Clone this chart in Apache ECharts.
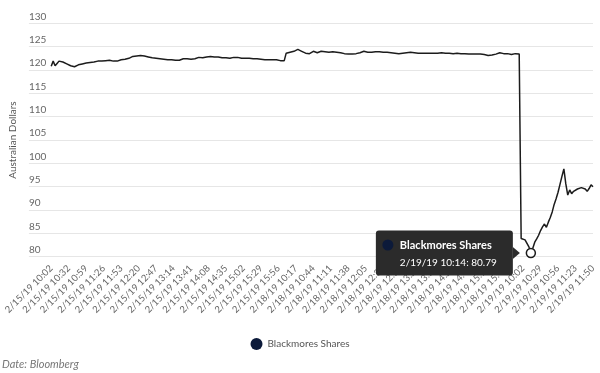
<!DOCTYPE html>
<html>
<head>
<meta charset="utf-8">
<script src="https://cdn.jsdelivr.net/npm/echarts@6/dist/echarts.min.js"></script>
<style>
  html, body { margin: 0; padding: 0; background: #fff; }
  #chart { width: 600px; height: 373px; }
</style>
</head>
<body>
<div id="chart"></div>
<script>
// axis tick labels, one every 9 points (3 minutes per point)
const tickLabels = [
  "2/15/19 10:02", "2/15/19 10:32", "2/15/19 10:59", "2/15/19 11:26", "2/15/19 11:53",
  "2/15/19 12:20", "2/15/19 12:47", "2/15/19 13:14", "2/15/19 13:41", "2/15/19 14:08",
  "2/15/19 14:35", "2/15/19 15:02", "2/15/19 15:29", "2/15/19 15:56",
  "2/18/19 10:17", "2/18/19 10:44", "2/18/19 11:11", "2/18/19 11:38", "2/18/19 12:05",
  "2/18/19 12:32", "2/18/19 12:59", "2/18/19 13:26", "2/18/19 13:53", "2/18/19 14:20",
  "2/18/19 14:47", "2/18/19 15:14", "2/18/19 15:41",
  "2/19/19 10:02", "2/19/19 10:29", "2/19/19 10:56", "2/19/19 11:23", "2/19/19 11:50"
];

// Blackmores share price, Australian dollars
const prices = [
  120.8, 121.9, 120.9, 121.4, 121.9, 122.1, 121.7, 121.5, 121.3, 121.1,
  120.9, 120.8, 120.7, 120.8, 121.1, 121.2, 121.3, 121.5, 121.5, 121.7,
  121.6, 121.8, 121.7, 121.8, 121.9, 121.8, 121.9, 121.9, 122.0, 121.9,
  122.1, 122.0, 121.9, 122.0, 121.9, 122.0, 122.2, 122.3, 122.3, 122.4,
  122.5, 122.6, 122.9, 122.9, 123.0, 123.0, 123.1, 123.0, 123.0, 122.9,
  122.8, 122.7, 122.6, 122.6, 122.5, 122.5, 122.4, 122.5, 122.3, 122.3,
  122.2, 122.1, 122.2, 122.1, 122.1, 122.2, 122.1, 122.3, 122.4, 122.5,
  122.4, 122.3, 122.3, 122.2, 122.4, 122.5, 122.7, 122.7, 122.6, 122.7,
  122.8, 122.9, 122.9, 122.8, 122.8, 122.7, 122.8, 122.7, 122.6, 122.7,
  122.6, 122.6, 122.5, 122.6, 122.7, 123.0, 122.7, 122.5, 122.5, 122.6,
  122.5, 122.6, 122.5, 122.5, 122.4, 122.5, 122.4, 122.3, 122.3, 122.2,
  122.2, 122.1, 122.2, 122.3, 122.2, 122.1, 122.2, 122.1, 122.0, 122.1,
  122.0, 123.6, 123.8, 123.8, 123.9, 124.0, 124.2, 124.4, 124.3, 124.0,
  123.8, 123.6, 123.5, 123.5, 123.7, 124.0, 123.8, 123.7, 123.8, 124.0,
  124.1, 123.9, 123.7, 123.8, 123.9, 123.9, 123.8, 123.8, 123.8, 123.7,
  123.6, 123.5, 123.4, 123.4, 123.4, 123.4, 123.4, 123.5, 123.6, 123.7,
  123.9, 124.0, 123.9, 123.8, 123.8, 123.8, 123.9, 123.9, 123.9, 123.9,
  123.9, 123.8, 123.8, 123.8, 123.7, 123.7, 123.7, 123.6, 123.6, 123.5,
  123.5, 123.6, 123.6, 123.7, 123.8, 123.8, 123.8, 123.7, 123.6, 123.6,
  123.7, 123.6, 123.6, 123.6, 123.5, 123.6, 123.5, 123.6, 123.7, 123.6,
  123.6, 123.7, 123.6, 123.6, 123.5, 123.6, 123.6, 123.5, 123.5, 123.6,
  123.6, 123.5, 123.6, 123.5, 123.5, 123.4, 123.5, 123.4, 123.5, 123.4,
  123.4, 123.4, 123.3, 123.3, 123.2, 123.1, 123.1, 123.2, 123.3, 123.4,
  123.5, 123.7, 123.6, 123.5, 123.5, 123.5, 123.4, 123.3, 123.4, 123.5,
  123.5, 123.4, 83.9, 84.2, 83.6, 83.2, 82.1, 80.79, 81.8, 83.1,
  83.8, 84.6, 85.6, 86.4, 87.0, 86.3, 87.4, 88.4, 89.6, 91.2,
  92.4, 93.8, 95.5, 97.2, 98.8, 95.6, 93.2, 94.3, 93.5, 94.0,
  94.2, 94.5, 94.6, 94.8, 94.9, 94.5, 94.0, 94.6, 95.4, 95.0
];

const seriesName = "Blackmores Shares";
const tipIndex = 247; // point shown in the tooltip
const STEP = 9;

// time label of each point: tick label plus 3 minutes per step
const times = prices.map((_, i) => {
  const [d, hm] = tickLabels[Math.floor(i / STEP)].split(" ");
  const [h, m] = hm.split(":").map(Number);
  const t = h * 60 + m + (i % STEP) * 3;
  return d + " " + Math.floor(t / 60) + ":" + String(t % 60).padStart(2, "0");
});

const tickValues = tickLabels.map((_, k) => k * STEP);
const font = "Lato, 'Open Sans', sans-serif";

const chart = echarts.init(document.getElementById("chart"));

chart.setOption({
  animation: false,
  textStyle: { fontFamily: font },
  grid: { left: 25, right: 7, top: 23.3, bottom: 116.3 },
  legend: {
    top: 333,
    left: "center",
    icon: "circle",
    itemWidth: 12,
    itemHeight: 12,
    textStyle: { color: "#555", fontSize: 10, fontFamily: font },
    data: [seriesName]
  },
  xAxis: {
    type: "value",
    min: -11.5,
    max: prices.length - 1,
    splitLine: { show: false },
    axisLine: { show: false },
    axisTick: { show: false },
    axisLabel: {
      customValues: tickValues,
      rotate: 45,
      margin: 10,
      color: "#666",
      fontSize: 9.5,
      fontFamily: font,
      formatter: (v) => tickLabels[Math.round(v / STEP)]
    }
  },
  yAxis: {
    type: "value",
    min: 80,
    max: 130,
    interval: 5,
    name: "Australian Dollars",
    nameLocation: "middle",
    nameGap: 9,
    nameTextStyle: { color: "#555", fontSize: 10, fontFamily: font },
    axisLine: { show: false },
    axisTick: { show: false },
    splitLine: { lineStyle: { color: "#e6e6e6", width: 1 } },
    axisLabel: {
      inside: true,
      margin: 0,
      verticalAlign: "bottom",
      padding: [0, 0, 2, 0],
      color: "#666",
      fontSize: 10,
      fontFamily: font
    }
  },
  series: [{
    name: seriesName,
    type: "line",
    data: prices.map((v, i) => [i, v]),
    showSymbol: false,
    symbol: "none",
    itemStyle: { color: "#0c1a3a" },
    lineStyle: { color: "#1c1c1c", width: 1.5 },
    markPoint: {
      symbol: "circle",
      symbolSize: 9,
      itemStyle: { color: "#fff", borderColor: "#1c1c1c", borderWidth: 1.5 },
      label: { show: false },
      data: [{ coord: [tipIndex, prices[tipIndex]] }]
    }
  }]
});

// static tooltip beside the lowest point, placed from the point's pixel position
const [px, py] = chart.convertToPixel({ seriesIndex: 0 }, [tipIndex, prices[tipIndex]]);
const tipFill = "#2b2b2b";
chart.setOption({
  graphic: {
    elements: [
      {
        type: "text",
        left: 2,
        top: 359,
        style: { text: "Date: Bloomberg", fill: "#777", font: "italic 11px " + font }
      },
      {
        type: "rect",
        x: px - 155,
        y: py - 22.5,
        z: 100,
        shape: { x: 0, y: 0, width: 137, height: 45, r: 3 },
        style: { fill: tipFill, stroke: null }
      },
      {
        type: "polygon",
        z: 100,
        shape: { points: [[px - 18, py - 6], [px - 11, py], [px - 18, py + 6]] },
        style: { fill: tipFill }
      },
      {
        type: "circle",
        z: 101,
        shape: { cx: px - 143, cy: py - 8, r: 5.5 },
        style: { fill: "#0c1a3a" }
      },
      {
        type: "text",
        z: 101,
        x: px - 131,
        y: py - 8,
        style: {
          text: seriesName,
          fill: "#fff",
          font: "bold 11px " + font,
          verticalAlign: "middle"
        }
      },
      {
        type: "text",
        z: 101,
        x: px - 131,
        y: py + 10,
        style: {
          text: times[tipIndex] + ": " + prices[tipIndex],
          fill: "#fff",
          font: "10px " + font,
          verticalAlign: "middle"
        }
      }
    ]
  }
});
</script>
</body>
</html>
